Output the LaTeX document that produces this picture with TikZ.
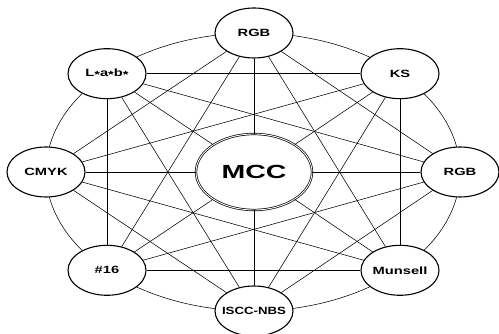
\documentclass[tikz,border=0pt]{standalone}
\usepackage{fontspec}
\usepackage{graphicx}
\setmainfont{Liberation Sans}
\usetikzlibrary{shapes.geometric}
\newcommand\lab[2][1.4]{\makebox[0pt]{\scalebox{#1}[1]{#2}}}
\tikzset{
  conn/.style={line width=0.55pt, black},
  outer/.style={ellipse, draw, line width=1.1pt, fill=white, inner sep=0pt,
    minimum width=78pt, minimum height=50pt,
    font=\bfseries\fontsize{10.5}{12}\selectfont},
  hub/.style={ellipse, draw, line width=0.7pt, double=white, double distance=0.9pt,
    fill=white, inner sep=0pt, minimum width=116pt, minimum height=76pt,
    font=\bfseries\fontsize{19}{22}\selectfont},
  ring/.style={line width=0.55pt}
}
\begin{document}
\begin{tikzpicture}[x=1pt,y=1pt]
\useasboundingbox (0,0) rectangle (499,334);
\fill[white] (0,0) rectangle (499,334);
\draw[ring] (253,162) ellipse [x radius=207, y radius=139];
\node[hub] (mcc) at (254,162) {\lab[1.5]{MCC}};
\node[outer] (r)  at (460,162)   {\lab{RGB}};
\node[outer] (tr) at (400,260.3) {\lab{KS}};
\node[outer] (t)  at (254,301)   {\lab{RGB}};
\node[outer] (tl) at (107,260.3) {\lab{L\raisebox{-0.3ex}{*}a\raisebox{-0.3ex}{*}b\raisebox{-0.3ex}{*}}};
\node[outer] (l)  at (46,162)    {\lab{CMYK}};
\node[outer] (bl) at (107,63.7)  {\lab{\#16}};
\node[outer] (b)  at (254,23)    {\lab[1.26]{ISCC-NBS}};
\node[outer] (br) at (400,63.7)  {\lab{Munsell}};
% chords skipping one node
\foreach \a/\b in {r/t, tr/tl, t/l, tl/bl, l/b, bl/br, b/r, br/tr}
  \draw[conn] (\a) -- (\b);
% chords skipping two nodes
\foreach \a/\b in {r/tl, tr/l, t/bl, tl/b, l/br, bl/r, b/tr, br/t}
  \draw[conn] (\a) -- (\b);
% spokes to the hub
\foreach \a in {r, tr, t, tl, l, bl, b, br}
  \draw[conn] (\a) -- (mcc);
\end{tikzpicture}
\end{document}
